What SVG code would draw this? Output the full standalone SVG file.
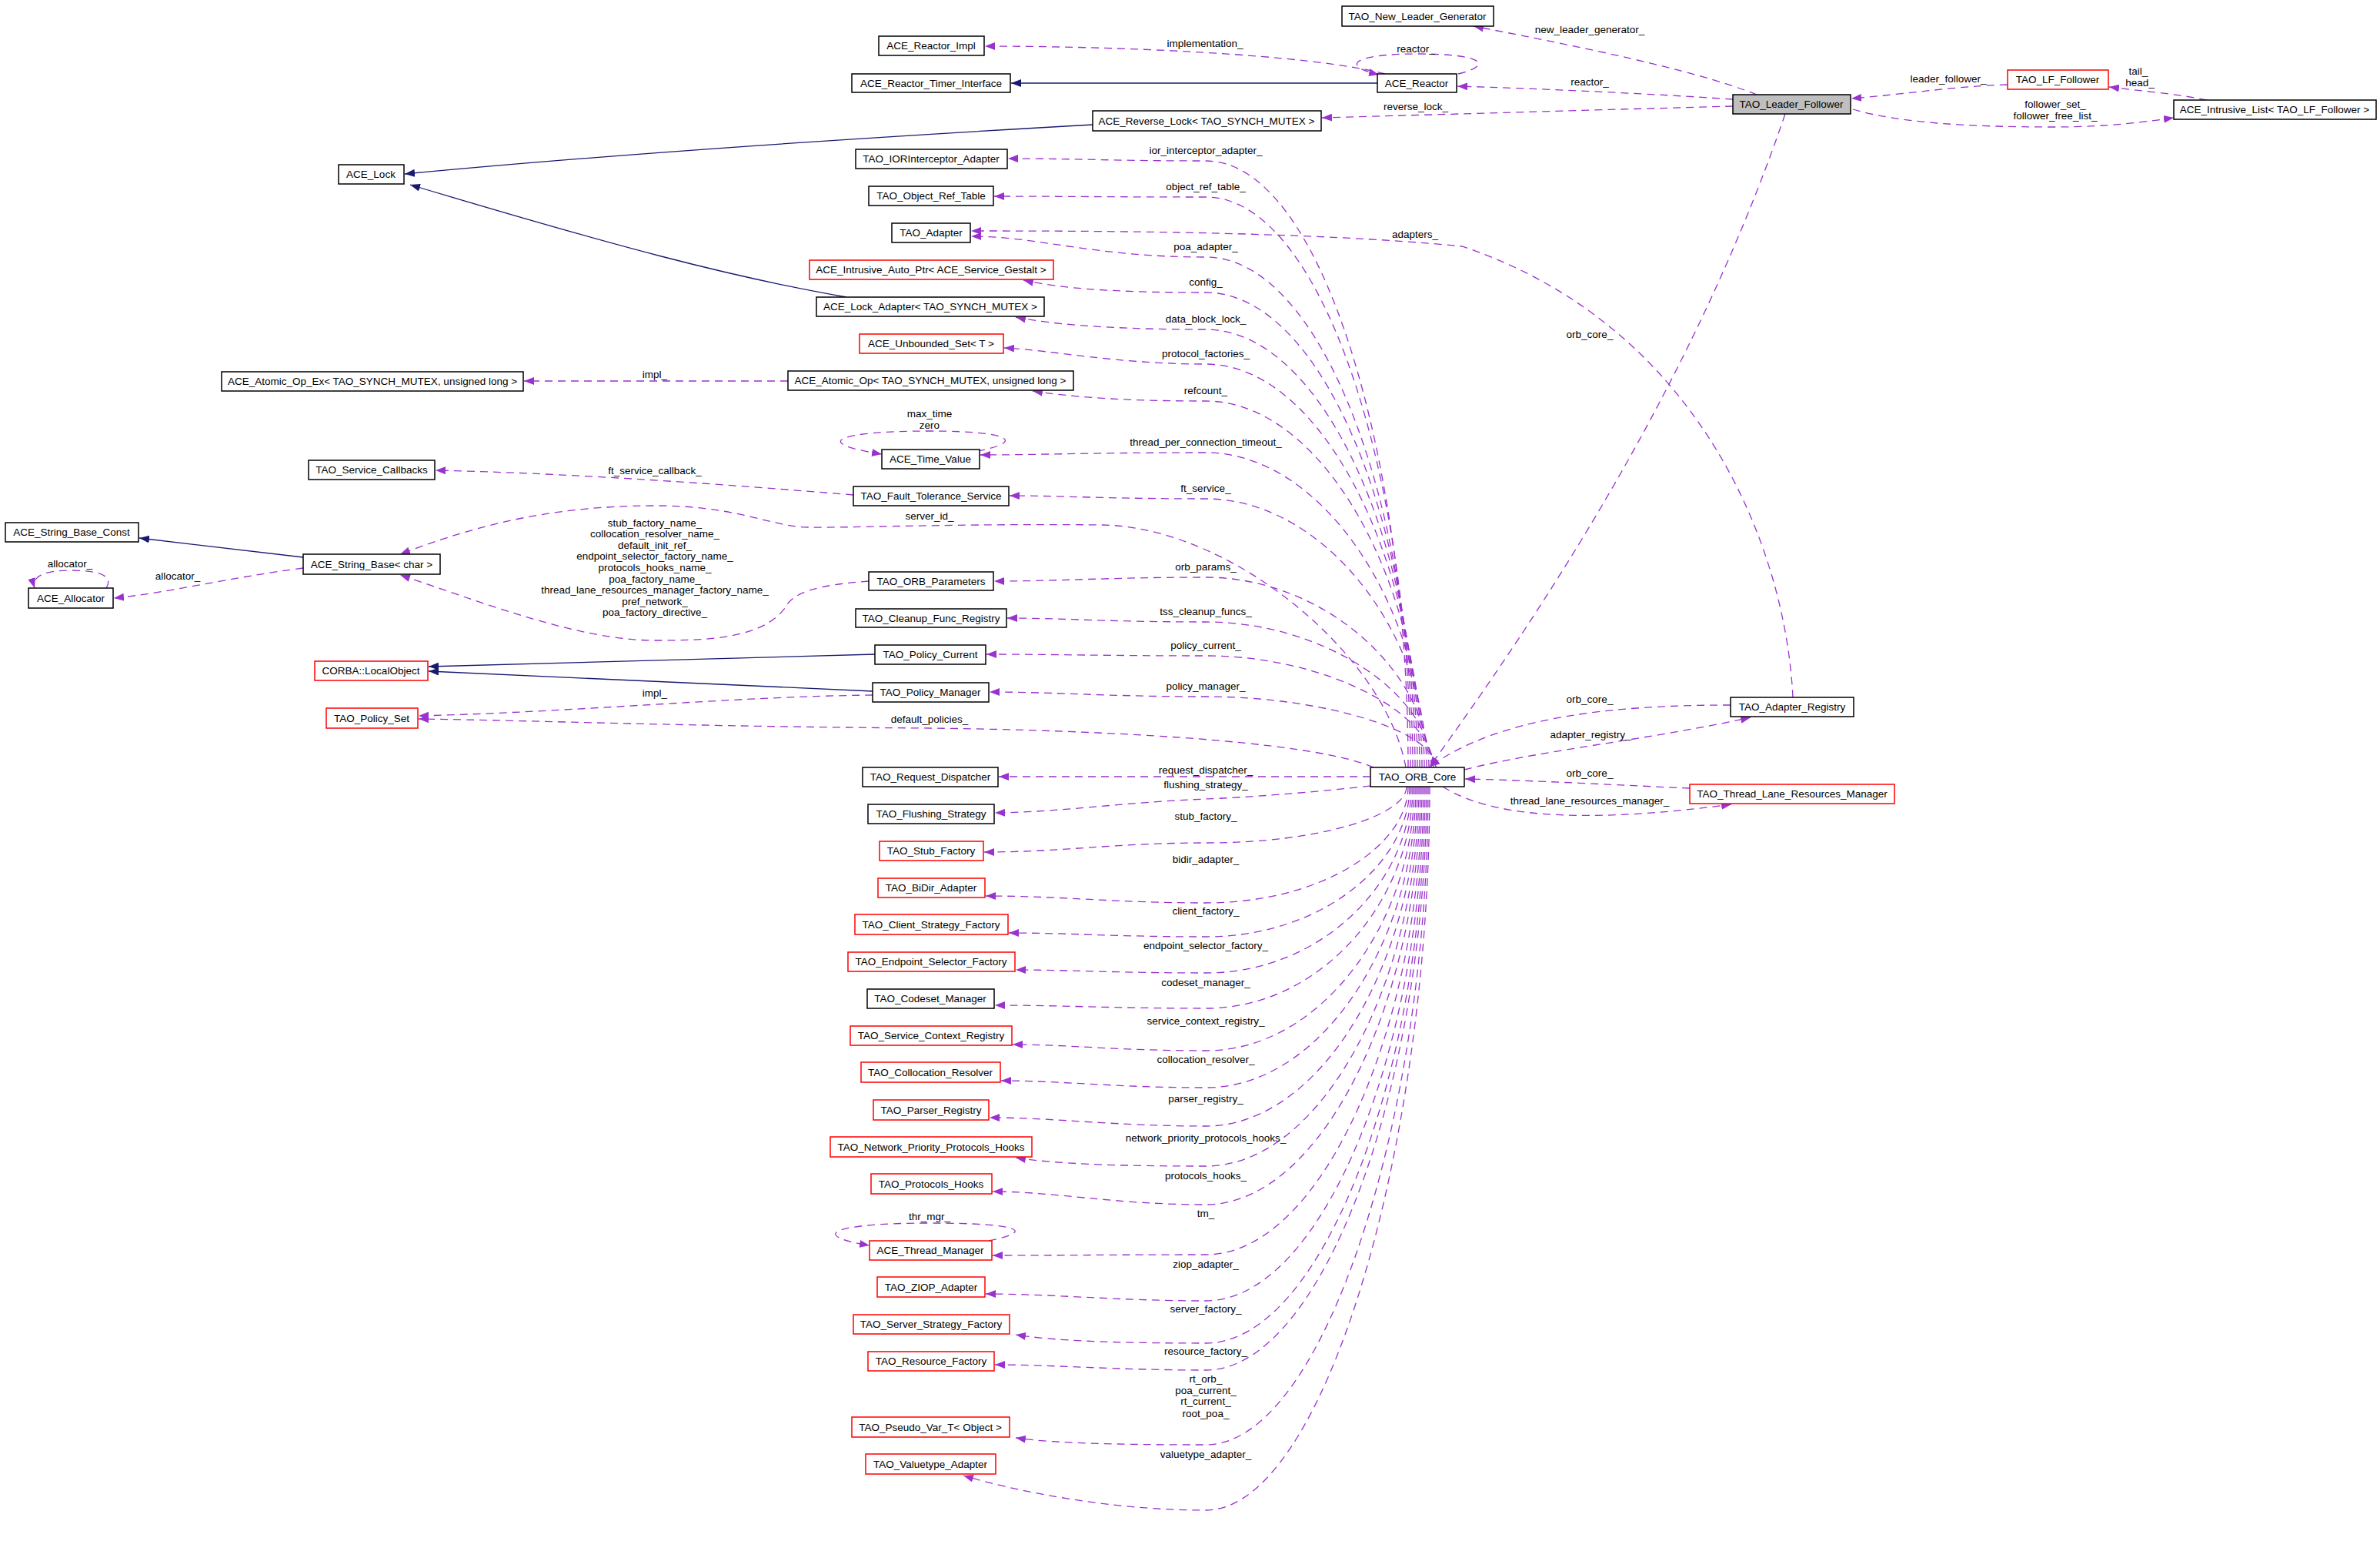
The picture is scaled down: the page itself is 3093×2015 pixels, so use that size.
<svg xmlns="http://www.w3.org/2000/svg" width="3093" height="2015" viewBox="0 0 3093 2015">
<style>
.n rect{fill:#fff;stroke:#000;stroke-width:1.5}
.n.r rect{stroke:#f00}
.n.g rect{fill:#bfbfbf}
text{font-family:"Liberation Sans",Arial,sans-serif;font-size:13.5px;fill:#000}
.n text{text-anchor:middle}
.l{text-anchor:middle}
.e{fill:none;stroke:#9a32cd;stroke-width:1.3;stroke-dasharray:10,7;marker-end:url(#pa)}
.i{fill:none;stroke:#191970;stroke-width:1.3;marker-end:url(#na)}
</style>
<defs>
<marker id="pa" markerUnits="userSpaceOnUse" markerWidth="14" markerHeight="10" refX="13" refY="5" orient="auto"><path d="M0,0 L13,5 L0,10 z" fill="#9a32cd"/></marker>
<marker id="na" markerUnits="userSpaceOnUse" markerWidth="14" markerHeight="10" refX="13" refY="5" orient="auto"><path d="M0,0 L13,5 L0,10 z" fill="#191970"/></marker>
</defs>
<rect width="3093" height="2015" fill="#fff"/>
<g id="edges">
<path class="e" d="M1800 96 C1700 70 1450 60 1280 60"/>
<path class="e" d="M1895 96 C1940 85 1930 70 1842 70 C1760 70 1740 85 1792 97"/>
<path class="i" d="M1790 108 L1314 108"/>
<path class="e" d="M2252 129 C2150 122 2000 115 1894 112"/>
<path class="e" d="M2283 123 C2200 90 2050 60 1915 34"/>
<path class="e" d="M2252 138 C2100 142 1900 148 1718 153"/>
<path class="i" d="M1420 162 C1100 180 800 200 526 226"/>
<path class="i" d="M1100 386 C950 360 800 320 533 240"/>
<path class="e" d="M2868 130 C2830 122 2780 118 2741 113"/>
<path class="e" d="M2609 110 C2540 112 2480 122 2406 128"/>
<path class="e" d="M2408 142 C2470 160 2560 165 2671 165 C2740 165 2790 158 2825 153"/>
<path class="e" d="M2320 148 C2200 500 2000 800 1858 996"/>
<path class="e" d="M2330 906 C2320 700 2200 420 1900 320 C1700 300 1400 300 1262 300"/>
<path class="e" d="M2249 916 C2100 916 1950 930 1858 996"/>
<path class="e" d="M1903 1000 C2000 975 2150 960 2275 932"/>
<path class="e" d="M2196 1024 C2100 1020 2000 1014 1904 1012"/>
<path class="e" d="M1875 1022 C1950 1070 2100 1065 2250 1045"/>
<path class="e" d="M1024 495 L681 495"/>
<path class="e" d="M1270 586 C1330 575 1320 560 1208 560 C1090 560 1050 575 1146 590"/>
<path class="e" d="M1109 643 C950 630 750 615 566 611"/>
<path class="i" d="M394 724 L181 699"/>
<path class="e" d="M394 738 C300 750 220 770 148 777"/>
<path class="e" d="M138 764 C150 745 120 741 91 741 C60 741 40 748 45 764"/>
<path class="e" d="M1827 997 C1800 850 1600 685 1433 682 C1250 680 1100 686 1050 685 C1000 684 960 657 851 657 C700 657 600 690 520 720"/>
<path class="e" d="M1129 755 C1060 760 1030 770 1020 790 C990 830 920 832 851 832 C750 832 620 780 520 747"/>
<path class="i" d="M1137 850 L557 866"/>
<path class="i" d="M1134 898 L557 872"/>
<path class="e" d="M1134 903 C950 905 750 925 544 930"/>
<path class="e" d="M1785 997 C1700 960 1400 948 1208 946 C900 944 700 936 544 934"/>
<path class="e" d="M1285 1612 C1345 1600 1330 1589 1208 1589 C1080 1589 1050 1605 1130 1618"/>
<path class="e" d="M1830 997 C1830 603 1720 209 1567 209 C1450 209 1400 206 1310 206"/>
<path class="e" d="M1833 997 C1833 626 1720 256 1567 256 C1450 256 1380 255 1292 255"/>
<path class="e" d="M1836 997 C1836 665 1720 334 1567 334 C1420 334 1350 307 1262 307"/>
<path class="e" d="M1839 997 C1839 688 1720 380 1567 380 C1450 380 1380 375 1330 364"/>
<path class="e" d="M1842 997 C1842 712 1720 428 1567 428 C1450 428 1370 422 1320 412"/>
<path class="e" d="M1845 997 C1845 735 1720 473 1567 473 C1450 473 1370 455 1305 452"/>
<path class="e" d="M1848 997 C1848 759 1720 521 1567 521 C1450 521 1390 515 1342 508"/>
<path class="e" d="M1851 997 C1851 792 1720 588 1567 588 C1420 588 1350 591 1274 591"/>
<path class="e" d="M1854 997 C1854 822 1720 648 1567 648 C1440 648 1380 644 1312 644"/>
<path class="e" d="M1857 997 C1857 873 1720 750 1567 750 C1440 750 1380 755 1292 755"/>
<path class="e" d="M1860 997 C1860 902 1720 808 1567 808 C1440 808 1380 803 1309 803"/>
<path class="e" d="M1863 997 C1863 925 1720 852 1567 852 C1440 852 1370 850 1282 850"/>
<path class="e" d="M1866 997 C1866 950 1720 905 1567 905 C1440 905 1370 899 1286 899"/>
<path class="e" d="M1781 1009 L1298 1009"/>
<path class="e" d="M1781 1021 C1700 1030 1620 1036 1567 1038 C1450 1043 1380 1055 1293 1056"/>
<path class="e" d="M1828 1022 C1828 1058 1720 1095 1567 1095 C1450 1095 1380 1107 1279 1107"/>
<path class="e" d="M1830 1022 C1830 1097 1720 1173 1567 1173 C1450 1173 1380 1164 1281 1164"/>
<path class="e" d="M1832 1022 C1832 1120 1720 1217 1567 1217 C1450 1217 1390 1212 1311 1212"/>
<path class="e" d="M1834 1022 C1834 1143 1720 1264 1567 1264 C1450 1264 1390 1260 1320 1260"/>
<path class="e" d="M1836 1022 C1836 1166 1720 1310 1567 1310 C1450 1310 1380 1306 1293 1306"/>
<path class="e" d="M1838 1022 C1838 1193 1720 1365 1567 1365 C1450 1365 1390 1357 1316 1357"/>
<path class="e" d="M1840 1022 C1840 1217 1720 1413 1567 1413 C1450 1413 1380 1404 1301 1404"/>
<path class="e" d="M1842 1022 C1842 1242 1720 1463 1567 1463 C1450 1463 1370 1452 1286 1452"/>
<path class="e" d="M1844 1022 C1844 1268 1720 1515 1567 1515 C1450 1515 1370 1512 1320 1504"/>
<path class="e" d="M1846 1022 C1846 1293 1720 1565 1567 1565 C1450 1565 1370 1548 1290 1548"/>
<path class="e" d="M1848 1022 C1848 1326 1720 1630 1567 1630 C1450 1630 1370 1631 1290 1631"/>
<path class="e" d="M1850 1022 C1850 1356 1720 1690 1567 1690 C1450 1690 1370 1681 1281 1681"/>
<path class="e" d="M1852 1022 C1852 1383 1720 1745 1567 1745 C1450 1745 1370 1742 1320 1734"/>
<path class="e" d="M1854 1022 C1854 1401 1720 1780 1567 1780 C1450 1780 1370 1773 1293 1773"/>
<path class="e" d="M1856 1022 C1856 1450 1720 1877 1567 1877 C1450 1877 1370 1875 1320 1868"/>
<path class="e" d="M1858 1022 C1858 1492 1720 1962 1567 1962 C1450 1962 1330 1940 1252 1917"/>
</g>
<g id="labels">
<text class="l" x="1566" y="61">implementation_</text>
<text class="l" x="1840" y="68">reactor_</text>
<text class="l" x="2066" y="43">new_leader_generator_</text>
<text class="l" x="2066" y="111">reactor_</text>
<text class="l" x="1840" y="143">reverse_lock_</text>
<text class="l" x="2532" y="107">leader_follower_</text>
<text class="l" x="2779" y="97">tail_</text>
<text class="l" x="2781" y="112">head_</text>
<text class="l" x="2671" y="140">follower_set_</text>
<text class="l" x="2671" y="155">follower_free_list_</text>
<text class="l" x="2066" y="439">orb_core_</text>
<text class="l" x="1839" y="309">adapters_</text>
<text class="l" x="2066" y="913">orb_core_</text>
<text class="l" x="2067" y="959">adapter_registry_</text>
<text class="l" x="2066" y="1009">orb_core_</text>
<text class="l" x="2066" y="1045">thread_lane_resources_manager_</text>
<text class="l" x="851" y="491">impl_</text>
<text class="l" x="1208" y="542">max_time</text>
<text class="l" x="1208" y="557">zero</text>
<text class="l" x="851" y="616">ft_service_callback_</text>
<text class="l" x="91" y="737">allocator_</text>
<text class="l" x="231" y="753">allocator_</text>
<text class="l" x="851" y="684">stub_factory_name_</text>
<text class="l" x="851" y="698">collocation_resolver_name_</text>
<text class="l" x="851" y="713">default_init_ref_</text>
<text class="l" x="851" y="727">endpoint_selector_factory_name_</text>
<text class="l" x="851" y="742">protocols_hooks_name_</text>
<text class="l" x="851" y="757">poa_factory_name_</text>
<text class="l" x="851" y="771">thread_lane_resources_manager_factory_name_</text>
<text class="l" x="851" y="786">pref_network_</text>
<text class="l" x="851" y="800">poa_factory_directive_</text>
<text class="l" x="851" y="905">impl_</text>
<text class="l" x="1208" y="675">server_id_</text>
<text class="l" x="1208" y="939">default_policies_</text>
<text class="l" x="1208" y="1585">thr_mgr_</text>
<text class="l" x="1567" y="200">ior_interceptor_adapter_</text>
<text class="l" x="1567" y="247">object_ref_table_</text>
<text class="l" x="1567" y="325">poa_adapter_</text>
<text class="l" x="1567" y="371">config_</text>
<text class="l" x="1567" y="419">data_block_lock_</text>
<text class="l" x="1567" y="464">protocol_factories_</text>
<text class="l" x="1567" y="512">refcount_</text>
<text class="l" x="1567" y="579">thread_per_connection_timeout_</text>
<text class="l" x="1567" y="639">ft_service_</text>
<text class="l" x="1567" y="741">orb_params_</text>
<text class="l" x="1567" y="799">tss_cleanup_funcs_</text>
<text class="l" x="1567" y="843">policy_current_</text>
<text class="l" x="1567" y="896">policy_manager_</text>
<text class="l" x="1567" y="1005">request_dispatcher_</text>
<text class="l" x="1567" y="1024">flushing_strategy_</text>
<text class="l" x="1567" y="1065">stub_factory_</text>
<text class="l" x="1567" y="1121">bidir_adapter_</text>
<text class="l" x="1567" y="1188">client_factory_</text>
<text class="l" x="1567" y="1233">endpoint_selector_factory_</text>
<text class="l" x="1567" y="1281">codeset_manager_</text>
<text class="l" x="1567" y="1331">service_context_registry_</text>
<text class="l" x="1567" y="1381">collocation_resolver_</text>
<text class="l" x="1567" y="1432">parser_registry_</text>
<text class="l" x="1567" y="1483">network_priority_protocols_hooks_</text>
<text class="l" x="1567" y="1532">protocols_hooks_</text>
<text class="l" x="1567" y="1581">tm_</text>
<text class="l" x="1567" y="1647">ziop_adapter_</text>
<text class="l" x="1567" y="1705">server_factory_</text>
<text class="l" x="1567" y="1760">resource_factory_</text>
<text class="l" x="1567" y="1796">rt_orb_</text>
<text class="l" x="1567" y="1811">poa_current_</text>
<text class="l" x="1567" y="1825">rt_current_</text>
<text class="l" x="1567" y="1841">root_poa_</text>
<text class="l" x="1567" y="1894">valuetype_adapter_</text>
</g>
<g id="TAO_Leader_Follower" class="n g"><rect x="2252" y="123" width="153" height="25"/><text x="2328" y="140">TAO_Leader_Follower</text></g>
<g id="TAO_New_Leader_Generator" class="n"><rect x="1744" y="8" width="197" height="26"/><text x="1842" y="26">TAO_New_Leader_Generator</text></g>
<g id="ACE_Reactor_Impl" class="n"><rect x="1142" y="47" width="137" height="25"/><text x="1210" y="64">ACE_Reactor_Impl</text></g>
<g id="ACE_Reactor_Timer_Interface" class="n"><rect x="1107" y="96" width="206" height="24"/><text x="1210" y="113">ACE_Reactor_Timer_Interface</text></g>
<g id="ACE_Reactor" class="n"><rect x="1790" y="96" width="103" height="24"/><text x="1841" y="113">ACE_Reactor</text></g>
<g id="ACE_Reverse_Lock" class="n"><rect x="1420" y="144" width="297" height="26"/><text x="1568" y="162">ACE_Reverse_Lock&lt; TAO_SYNCH_MUTEX &gt;</text></g>
<g id="TAO_LF_Follower" class="n r"><rect x="2609" y="91" width="131" height="25"/><text x="2674" y="108">TAO_LF_Follower</text></g>
<g id="ACE_Intrusive_List" class="n"><rect x="2825" y="130" width="263" height="25"/><text x="2956" y="147">ACE_Intrusive_List&lt; TAO_LF_Follower &gt;</text></g>
<g id="ACE_Lock" class="n"><rect x="440" y="214" width="85" height="25"/><text x="482" y="231">ACE_Lock</text></g>
<g id="TAO_IORInterceptor_Adapter" class="n"><rect x="1112" y="194" width="197" height="25"/><text x="1210" y="211">TAO_IORInterceptor_Adapter</text></g>
<g id="TAO_Object_Ref_Table" class="n"><rect x="1129" y="242" width="162" height="25"/><text x="1210" y="259">TAO_Object_Ref_Table</text></g>
<g id="TAO_Adapter" class="n"><rect x="1159" y="290" width="102" height="25"/><text x="1210" y="307">TAO_Adapter</text></g>
<g id="ACE_Intrusive_Auto_Ptr" class="n r"><rect x="1052" y="338" width="317" height="25"/><text x="1210" y="355">ACE_Intrusive_Auto_Ptr&lt; ACE_Service_Gestalt &gt;</text></g>
<g id="ACE_Lock_Adapter" class="n"><rect x="1061" y="386" width="296" height="25"/><text x="1209" y="403">ACE_Lock_Adapter&lt; TAO_SYNCH_MUTEX &gt;</text></g>
<g id="ACE_Unbounded_Set" class="n r"><rect x="1117" y="434" width="187" height="25"/><text x="1210" y="451">ACE_Unbounded_Set&lt; T &gt;</text></g>
<g id="ACE_Atomic_Op" class="n"><rect x="1024" y="482" width="371" height="25"/><text x="1209" y="499">ACE_Atomic_Op&lt; TAO_SYNCH_MUTEX, unsigned long &gt;</text></g>
<g id="ACE_Atomic_Op_Ex" class="n"><rect x="288" y="483" width="392" height="25"/><text x="484" y="500">ACE_Atomic_Op_Ex&lt; TAO_SYNCH_MUTEX, unsigned long &gt;</text></g>
<g id="ACE_Time_Value" class="n"><rect x="1146" y="584" width="127" height="25"/><text x="1209" y="601">ACE_Time_Value</text></g>
<g id="TAO_Service_Callbacks" class="n"><rect x="401" y="598" width="164" height="25"/><text x="483" y="615">TAO_Service_Callbacks</text></g>
<g id="TAO_Fault_Tolerance_Service" class="n"><rect x="1109" y="632" width="202" height="25"/><text x="1210" y="649">TAO_Fault_Tolerance_Service</text></g>
<g id="ACE_String_Base_Const" class="n"><rect x="7" y="679" width="173" height="25"/><text x="93" y="696">ACE_String_Base_Const</text></g>
<g id="ACE_String_Base" class="n"><rect x="394" y="720" width="178" height="26"/><text x="483" y="738">ACE_String_Base&lt; char &gt;</text></g>
<g id="ACE_Allocator" class="n"><rect x="37" y="764" width="110" height="26"/><text x="92" y="782">ACE_Allocator</text></g>
<g id="TAO_ORB_Parameters" class="n"><rect x="1129" y="743" width="162" height="24"/><text x="1210" y="760">TAO_ORB_Parameters</text></g>
<g id="TAO_Cleanup_Func_Registry" class="n"><rect x="1112" y="791" width="196" height="24"/><text x="1210" y="808">TAO_Cleanup_Func_Registry</text></g>
<g id="CORBA_LocalObject" class="n r"><rect x="409" y="859" width="147" height="25"/><text x="482" y="876">CORBA::LocalObject</text></g>
<g id="TAO_Policy_Current" class="n"><rect x="1137" y="838" width="144" height="25"/><text x="1209" y="855">TAO_Policy_Current</text></g>
<g id="TAO_Policy_Manager" class="n"><rect x="1134" y="887" width="151" height="25"/><text x="1209" y="904">TAO_Policy_Manager</text></g>
<g id="TAO_Policy_Set" class="n r"><rect x="424" y="920" width="119" height="26"/><text x="483" y="938">TAO_Policy_Set</text></g>
<g id="TAO_Adapter_Registry" class="n"><rect x="2249" y="906" width="160" height="25"/><text x="2329" y="923">TAO_Adapter_Registry</text></g>
<g id="TAO_Thread_Lane_Resources_Manager" class="n r"><rect x="2196" y="1019" width="266" height="25"/><text x="2329" y="1036">TAO_Thread_Lane_Resources_Manager</text></g>
<g id="TAO_ORB_Core" class="n"><rect x="1781" y="997" width="122" height="25"/><text x="1842" y="1014">TAO_ORB_Core</text></g>
<g id="TAO_Request_Dispatcher" class="n"><rect x="1121" y="997" width="176" height="25"/><text x="1209" y="1014">TAO_Request_Dispatcher</text></g>
<g id="TAO_Flushing_Strategy" class="n"><rect x="1128" y="1045" width="164" height="25"/><text x="1210" y="1062">TAO_Flushing_Strategy</text></g>
<g id="TAO_Stub_Factory" class="n r"><rect x="1143" y="1093" width="135" height="25"/><text x="1210" y="1110">TAO_Stub_Factory</text></g>
<g id="TAO_BiDir_Adapter" class="n r"><rect x="1141" y="1141" width="139" height="25"/><text x="1210" y="1158">TAO_BiDir_Adapter</text></g>
<g id="TAO_Client_Strategy_Factory" class="n r"><rect x="1111" y="1188" width="199" height="26"/><text x="1210" y="1206">TAO_Client_Strategy_Factory</text></g>
<g id="TAO_Endpoint_Selector_Factory" class="n r"><rect x="1102" y="1237" width="217" height="25"/><text x="1210" y="1254">TAO_Endpoint_Selector_Factory</text></g>
<g id="TAO_Codeset_Manager" class="n"><rect x="1127" y="1285" width="165" height="25"/><text x="1209" y="1302">TAO_Codeset_Manager</text></g>
<g id="TAO_Service_Context_Registry" class="n r"><rect x="1105" y="1333" width="210" height="25"/><text x="1210" y="1350">TAO_Service_Context_Registry</text></g>
<g id="TAO_Collocation_Resolver" class="n r"><rect x="1119" y="1380" width="181" height="26"/><text x="1209" y="1398">TAO_Collocation_Resolver</text></g>
<g id="TAO_Parser_Registry" class="n r"><rect x="1135" y="1429" width="150" height="26"/><text x="1210" y="1447">TAO_Parser_Registry</text></g>
<g id="TAO_Network_Priority_Protocols_Hooks" class="n r"><rect x="1079" y="1477" width="262" height="26"/><text x="1210" y="1495">TAO_Network_Priority_Protocols_Hooks</text></g>
<g id="TAO_Protocols_Hooks" class="n r"><rect x="1132" y="1525" width="157" height="26"/><text x="1210" y="1543">TAO_Protocols_Hooks</text></g>
<g id="ACE_Thread_Manager" class="n r"><rect x="1130" y="1612" width="159" height="25"/><text x="1209" y="1629">ACE_Thread_Manager</text></g>
<g id="TAO_ZIOP_Adapter" class="n r"><rect x="1140" y="1659" width="140" height="26"/><text x="1210" y="1677">TAO_ZIOP_Adapter</text></g>
<g id="TAO_Server_Strategy_Factory" class="n r"><rect x="1109" y="1708" width="203" height="25"/><text x="1210" y="1725">TAO_Server_Strategy_Factory</text></g>
<g id="TAO_Resource_Factory" class="n r"><rect x="1128" y="1756" width="164" height="25"/><text x="1210" y="1773">TAO_Resource_Factory</text></g>
<g id="TAO_Pseudo_Var_T" class="n r"><rect x="1107" y="1841" width="205" height="26"/><text x="1209" y="1859">TAO_Pseudo_Var_T&lt; Object &gt;</text></g>
<g id="TAO_Valuetype_Adapter" class="n r"><rect x="1125" y="1889" width="169" height="26"/><text x="1209" y="1907">TAO_Valuetype_Adapter</text></g>
</svg>
